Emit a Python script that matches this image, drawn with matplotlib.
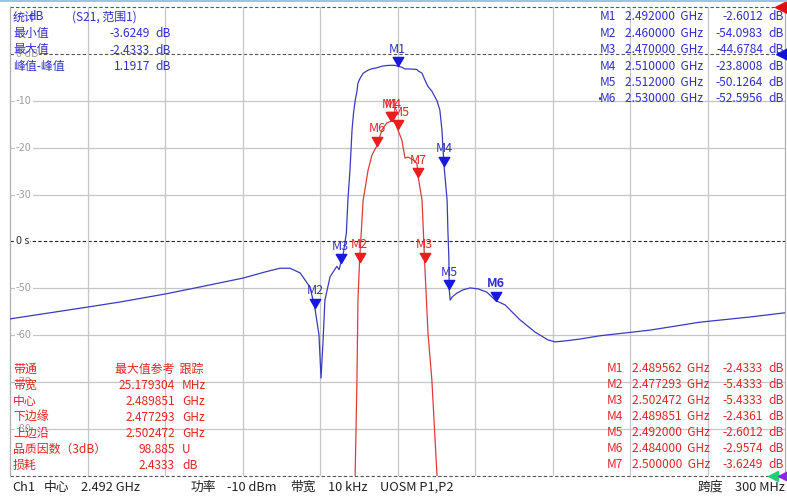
import matplotlib
matplotlib.use("Agg")
import matplotlib.pyplot as plt
import matplotlib.transforms as mtransforms
from matplotlib.path import Path
import numpy as np

plt.rcParams["font.family"] = ["Noto Sans CJK SC", "DejaVu Sans"]

W, H = 787, 498

# sweep settings (GHz)
CENTER = 2.492
SPAN = 0.300

# S21 trace (GHz, dB) - same data drawn twice (10 dB/div blue, 1 dB/div red)
freq = [2.3420, 2.3575, 2.3718, 2.3846, 2.4020, 2.4155, 2.4322, 2.4407, 2.4465,
        2.4504, 2.4543, 2.4581, 2.4600, 2.4616, 2.4624, 2.4632, 2.4639, 2.4659,
        2.4685, 2.4694, 2.4700, 2.4709, 2.4722, 2.4728, 2.4736, 2.4744, 2.4750,
        2.4756, 2.4763, 2.4767, 2.4773, 2.4787, 2.4806, 2.4821, 2.4840, 2.4860,
        2.4879, 2.4896, 2.4910, 2.4920, 2.4937, 2.4949, 2.4961, 2.4980, 2.4995,
        2.5000, 2.5015, 2.5025, 2.5038, 2.5053, 2.5073, 2.5084, 2.5092, 2.5100,
        2.5112, 2.5115, 2.5119, 2.5120, 2.5124, 2.5132, 2.5150, 2.5174, 2.5201,
        2.5232, 2.5266, 2.5300, 2.5336, 2.5394, 2.5452, 2.5503, 2.5530, 2.5568,
        2.5626, 2.5704, 2.5897, 2.6091, 2.6284, 2.6420]
s21 = [-56.5, -55.2, -54.0, -52.9, -51.2, -49.7, -47.8, -46.5, -45.7,
       -45.7, -46.7, -49.7, -54.10, -59.9, -69.1, -61.0, -52.5, -47.5,
       -45.3, -46.0, -44.68, -43.0, -38.2, -31.2, -24.8, -16.2, -12.5,
       -10.0, -7.95, -6.25, -5.43, -4.12, -3.48, -3.16, -2.96, -2.62,
       -2.47, -2.433, -2.45, -2.60, -2.84, -3.22, -3.20, -3.26, -3.33,
       -3.62, -4.12, -5.43, -6.95, -7.95, -10.0, -12.0, -16.2, -23.80,
       -31.2, -37.5, -43.9, -50.13, -52.5, -51.8, -51.0, -50.3, -49.9,
       -50.1, -50.8, -52.60, -53.5, -56.7, -59.3, -61.0, -61.4, -61.2,
       -60.8, -60.1, -58.9, -57.2, -56.1, -55.2]

# blue markers (10 dB/div)
blue_names = ["M1", "M2", "M3", "M4", "M5", "M6"]
blue_freq = [2.492000, 2.460000, 2.470000, 2.510000, 2.512000, 2.530000]
blue_val = [-2.6012, -54.0983, -44.6784, -23.8008, -50.1264, -52.5956]

# red markers (1 dB/div, bandwidth search)
red_names = ["M1", "M2", "M3", "M4", "M5", "M6", "M7"]
red_freq = [2.489562, 2.477293, 2.502472, 2.489851, 2.492000, 2.484000, 2.500000]
red_val = [-2.4333, -5.4333, -5.4333, -2.4361, -2.6012, -2.9574, -3.6249]

y_labels = [-10, -20, -30, -50, -60, -70, -80]

stats_rows = [("最小值", "-3.6249"), ("最大值", "-2.4333"), ("峰值-峰值", "1.1917")]
bw_rows = [("带宽", "25.179304", "MHz"), ("中心", "2.489851", "GHz"),
           ("下边缘", "2.477293", "GHz"), ("上边沿", "2.502472", "GHz"),
           ("品质因数（3dB）", "98.885", "U"), ("损耗", "2.4333", "dB")]

BLUE_TR = "#3a3ac0"
BLUE_MK = "#1818e0"
BLUE_TX = "#3030c8"
RED_TR = "#e03a3a"
RED_MK = "#ee1c1c"
RED_TX = "#e02626"
GRID = "#c6c6c6"

fig = plt.figure(figsize=(W / 100, H / 100), dpi=100)
fig.patch.set_facecolor("white")


def fx(x):
    return x / W


def fy(y):
    return 1 - y / H


ax = fig.add_axes([fx(10), fy(476), 775 / W, 469 / H])
fmin, fmax = CENTER - SPAN / 2, CENTER + SPAN / 2
ax.set_xlim(fmin, fmax)
ax.set_ylim(-90, 10)
ax.set_xticks([fmin + SPAN * k / 10 for k in range(1, 10)])
ax.set_yticks([v for v in range(-80, 10, 10) if v not in (0, -40)])
ax.grid(True, color=GRID, lw=0.9)
ax.tick_params(length=0, labelleft=False, labelbottom=False)
for s in ("top", "bottom"):
    ax.spines[s].set_visible(False)
for s in ("left", "right"):
    ax.spines[s].set_color("#b0b0b0")
    ax.spines[s].set_linewidth(0.9)

dash = dict(ls=(0, (3, 2)), lw=0.8, clip_on=False)
ax.axhline(10, color="#555555", zorder=1.5, **dash)
ax.axhline(0, color="#555555", zorder=1.5, **dash)
ax.axhline(-40, color="#222222", zorder=1.5, **dash)
ax.axhline(-90, color="#555555", zorder=1.5, **dash)

trans = mtransforms.blended_transform_factory(ax.transAxes, ax.transData)
lab_box = dict(fc="white", ec="none", pad=0.8)
for v in y_labels:
    ax.text(0.0075, v, str(v), transform=trans, ha="left", va="center",
            fontsize=7.8, color="#a0a0a0", bbox=lab_box, zorder=2)
ax.text(0.0075, 0, "0 dB", transform=trans, ha="left", va="center",
        fontsize=7.8, color="#a0a0a0", bbox=lab_box, zorder=2)
ax.text(0.0075, -40, "0 s", transform=trans, ha="left", va="center",
        fontsize=7.8, color="#333333", bbox=lab_box, zorder=2)

ax.plot(freq, s21, color=BLUE_TR, lw=0.9, zorder=3)

ax2 = ax.twinx()
ax2.set_ylim(-10, 0)
ax2.axis("off")
ax2.plot(freq, s21, color=RED_TR, lw=0.9, zorder=3)

tri = Path([(0, 0), (-0.58, 1), (0.58, 1), (0, 0)], closed=True)


def put_markers(a, names, fr, vals, mcol, tcol, bold=None, dx=None):
    a.plot(fr, vals, ls="none", marker=tri, ms=13, color=mcol, zorder=5, clip_on=False)
    for i, n in enumerate(names):
        off = 0 if dx is None else dx[i]
        a.annotate(n, (fr[i], vals[i]), xytext=(off, 7.5), textcoords="offset points",
                   ha="center", va="bottom", fontsize=9, color=tcol,
                   fontweight="bold" if bold == n else "normal", zorder=6)


put_markers(ax, blue_names, blue_freq, blue_val, BLUE_MK, BLUE_TX, bold="M6")
put_markers(ax2, red_names, red_freq, red_val, RED_MK, RED_TX,
            dx=[-1, 0, 0, 1, 2.5, 0, 0])

# reference arrows on right edge / bottom
ax.plot([0.995], [10], transform=trans, marker="<", ms=8, color="#e01010",
        clip_on=False, zorder=6)
ax.plot([0.996], [0], transform=trans, marker="<", ms=8, color="#1010e0",
        clip_on=False, zorder=6)
ax.plot([0.984], [-90], transform=trans, marker="<", ms=7, color="#20d070",
        clip_on=False, zorder=6)
ax.plot([0.997], [-90], transform=trans, marker="<", ms=7, color="#8a2be2",
        clip_on=False, zorder=6)

# top window strip
fig.add_artist(plt.Rectangle((0, fy(2.5)), 1, 2.5 / H, transform=fig.transFigure,
                             fc="#9cc2ee", ec="none"))

FS = 8.6

# statistics block (top left)
fig.text(fx(13), fy(17), "统计", fontsize=FS, color=BLUE_TX, va="center")
fig.text(fx(28), fy(17), "dB", fontsize=FS, color=BLUE_TX, va="center")
fig.text(fx(72), fy(17), "(S21, 范围1)", fontsize=FS, color=BLUE_TX, va="center")
for i, (name, val) in enumerate(stats_rows):
    y = 33.5 + 16.5 * i
    fig.text(fx(13), fy(y), name, fontsize=FS, color=BLUE_TX, va="center")
    fig.text(fx(150), fy(y), val, fontsize=FS, color=BLUE_TX, va="center", ha="right")
    fig.text(fx(155), fy(y), "dB", fontsize=FS, color=BLUE_TX, va="center")

# blue marker table (top right)
for i, n in enumerate(blue_names):
    y = 17 + 16.4 * i
    if n == "M6":
        fig.text(fx(593), fy(y), "•", fontsize=FS, color=BLUE_TX, va="center", ha="left")
    fig.text(fx(600), fy(y), n, fontsize=FS, color=BLUE_TX, va="center")
    fig.text(fx(625), fy(y), f"{blue_freq[i]:.6f}  GHz", fontsize=FS,
             color=BLUE_TX, va="center")
    fig.text(fx(763), fy(y), f"{blue_val[i]:.4f}", fontsize=FS, color=BLUE_TX,
             va="center", ha="right")
    fig.text(fx(768), fy(y), "dB", fontsize=FS, color=BLUE_TX, va="center")

# bandwidth block (bottom left)
fig.text(fx(13), fy(369.5), "带通", fontsize=FS, color=RED_TX, va="center")
fig.text(fx(115), fy(369.5), "最大值参考  跟踪", fontsize=FS, color=RED_TX, va="center")
for i, (name, val, unit) in enumerate(bw_rows):
    y = 385.5 + 16 * i
    fig.text(fx(13), fy(y), name, fontsize=FS, color=RED_TX, va="center")
    fig.text(fx(175), fy(y), val, fontsize=FS, color=RED_TX, va="center", ha="right")
    fig.text(fx(182), fy(y), unit, fontsize=FS, color=RED_TX, va="center")

# red marker table (bottom right)
for i, n in enumerate(red_names):
    y = 368.5 + 16 * i
    fig.text(fx(607), fy(y), n, fontsize=FS, color=RED_TX, va="center")
    fig.text(fx(632), fy(y), f"{red_freq[i]:.6f}  GHz", fontsize=FS,
             color=RED_TX, va="center")
    fig.text(fx(763), fy(y), f"{red_val[i]:.4f}", fontsize=FS, color=RED_TX,
             va="center", ha="right")
    fig.text(fx(768), fy(y), "dB", fontsize=FS, color=RED_TX, va="center")

# status bar
status = [(12, "Ch1"), (44, "中心"), (81, "2.492 GHz"), (191, "功率"),
          (227, "-10 dBm"), (290, "带宽"), (328, "10 kHz"), (380, "UOSM P1,P2"),
          (697, "跨度"), (735, "300 MHz")]
for x, t in status:
    fig.text(fx(x), fy(487.5), t, fontsize=9.2, color="#222222", va="center")

fig.savefig("out.png", dpi=100)
